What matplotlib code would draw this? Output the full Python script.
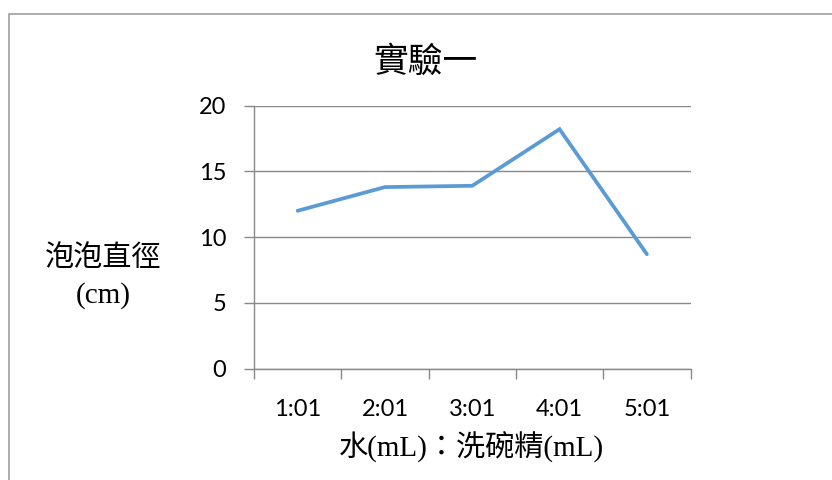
import matplotlib
matplotlib.use("Agg")
import matplotlib.pyplot as plt
from matplotlib.patches import Rectangle

categories = ["1:01", "2:01", "3:01", "4:01", "5:01"]
values = [12.0, 13.8, 13.9, 18.2, 8.7]
yticks = [0, 5, 10, 15, 20]
title = "實驗一"
ylabel = "泡泡直徑\n(cm)"
xlabel = "水(mL)：洗碗精(mL)"

W, H = 832, 480
fig = plt.figure(figsize=(W / 100, H / 100), dpi=100)
fig.patch.set_facecolor("white")

# chart-area border (right and bottom edges lie outside the picture)
fig.add_artist(Rectangle((8.5 / W, -0.2), 1.2, 1.2 - 13.5 / H, transform=fig.transFigure,
                         fill=False, edgecolor="#A6A6A6", linewidth=1.3))

ax = fig.add_axes([254 / W, 1 - 368.7 / H, (690.5 - 254) / W, (368.7 - 105.5) / H])
x = list(range(len(categories)))
ax.plot(x, values, color="#5B9BD5", linewidth=2.7, solid_capstyle="round",
        solid_joinstyle="miter", zorder=3)

ax.set_xlim(-0.5, len(categories) - 0.5)
ax.set_ylim(0, 20)
ax.set_yticks(yticks)
ax.set_xticks(x)
ax.set_xticklabels(categories)
ax.set_xticks([i - 0.5 for i in range(len(categories) + 1)], minor=True)

grid_c = "#898989"
ax.yaxis.grid(True, color=grid_c, linewidth=1.0)
ax.set_axisbelow(True)
for s in ["top", "right"]:
    ax.spines[s].set_visible(False)
for s in ["left", "bottom"]:
    ax.spines[s].set_color(grid_c)
    ax.spines[s].set_linewidth(1.0)

ax.tick_params(axis="x", which="major", length=0, pad=22)
ax.tick_params(axis="x", which="minor", length=7, color=grid_c, width=1.0)
ax.tick_params(axis="y", length=7, color=grid_c, width=1.0, pad=13)
for lab in ax.get_xticklabels() + ax.get_yticklabels():
    lab.set_fontfamily(["Lato", "DejaVu Sans"])
    lab.set_fontsize(17)
    lab.set_color("black")

mixed = ["Liberation Serif", "Noto Sans CJK TC"]
fig.text(425 / W, 1 - 62 / H, title, ha="center", va="center",
         family=["Noto Sans CJK TC"], fontsize=25, fontweight="light")
fig.text(103 / W, 1 - 277 / H, ylabel, ha="center", va="center", multialignment="center",
         family=mixed, fontsize=21, linespacing=1.45, fontweight="light")
fig.text(471 / W, 1 - 447 / H, xlabel, ha="center", va="center",
         family=mixed, fontsize=21, fontweight="light")

fig.savefig("out.png", dpi=100, facecolor="white")
